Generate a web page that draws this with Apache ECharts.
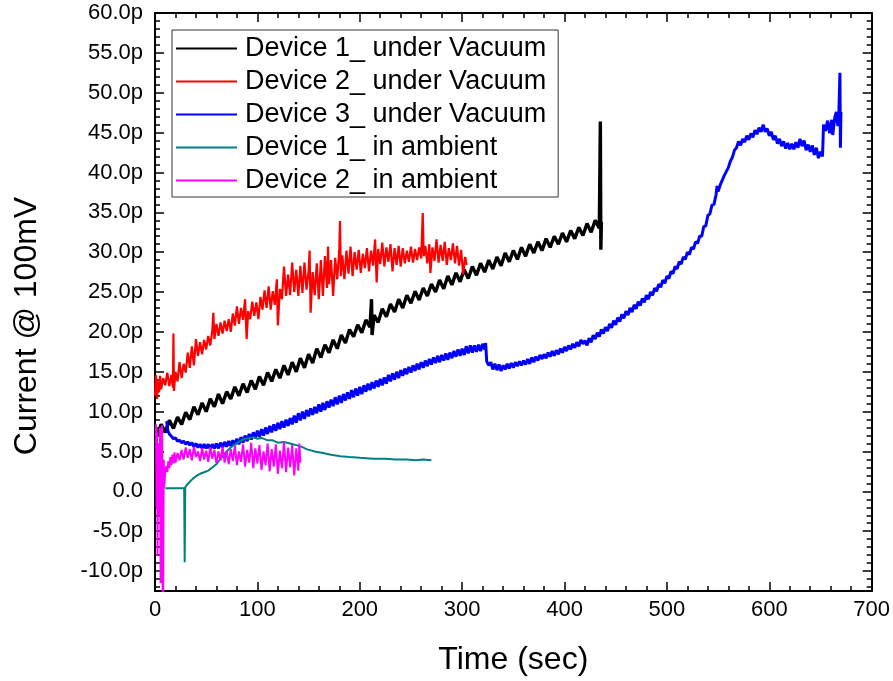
<!DOCTYPE html>
<html>
<head>
<meta charset="utf-8">
<script src="https://cdn.jsdelivr.net/npm/echarts@6/dist/echarts.min.js"></script>
<style>
html,body{margin:0;padding:0;background:#fff;}
#chart{width:893px;height:681px;}
</style>
</head>
<body>
<div id="chart"></div>
<script>
// ---- Data (time in s, current in pA) ----
const seriesNames = ['Device 1_ under Vacuum','Device 2_ under Vacuum','Device 3_ under Vacuum','Device 1_ in ambient','Device 2_ in ambient'];
const seriesColors = ['#000000','#FF0000','#0000FF','#008080','#FF00FF'];
const seriesWidths = [3.4, 2.2, 3.0, 2.0, 2.0];

const dev1Vacuum = [[2,7.0],[6,8.4],[10,7.4],[14,8.9],[18,7.9],[22,9.3],[26,8.4],[30,9.9],[34,9.0],[38,10.6],[42,9.6],[46,11.1],[50,10.0],[54,11.6],[58,10.6],[62,12.2],[66,11.0],[70,12.5],[74,11.6],[78,13.1],[82,12.0],[86,13.5],[90,12.4],[94,13.9],[98,12.8],[102,14.4],[106,13.3],[110,14.9],[114,13.8],[118,15.3],[122,14.2],[126,15.8],[130,14.6],[134,16.2],[138,15.0],[142,16.7],[146,15.5],[150,17.2],[154,16.1],[158,17.9],[162,16.8],[166,18.4],[170,17.4],[174,19.0],[178,17.9],[182,19.6],[186,18.6],[190,20.3],[194,19.4],[198,20.9],[202,19.9],[206,21.5],[210,20.6],[211.5,24.1],[212,19.6],[214,22.1],[218,21.2],[222,22.9],[226,21.9],[230,23.5],[234,22.5],[238,24.1],[242,23.0],[246,24.6],[250,23.6],[254,25.1],[258,24.0],[262,25.5],[266,24.5],[270,26.0],[274,25.0],[278,26.5],[282,25.4],[286,27.0],[290,25.9],[294,27.4],[298,26.3],[302,27.8],[306,26.7],[310,28.2],[314,27.1],[318,28.6],[322,27.5],[326,29.0],[330,27.9],[334,29.4],[338,28.3],[342,29.9],[346,28.8],[350,30.2],[354,29.1],[358,30.6],[362,29.5],[366,31.0],[370,29.9],[374,31.3],[378,30.2],[382,31.7],[386,30.6],[390,32.0],[394,31.0],[398,32.4],[402,31.3],[406,32.7],[410,31.7],[414,33.1],[418,32.1],[422,33.6],[426,32.5],[430,34.0],[434,33.0],[435,46.4],[435.5,30.3],[436,33.8]];

const dev2Vacuum = [[0,12.0],[1,14.6],[2,11.6],[3,13.8],[4,12.4],[5,14.5],[6,12.8],[8,14.2],[10,13.3],[12,14.9],[14,13.2],[16,14.6],[17.5,13.0],[18,19.8],[18.5,12.6],[20,15.0],[22,13.8],[24,16.2],[26,14.2],[28,16.0],[30,14.9],[32,17.4],[34,15.5],[36,18.2],[38,15.8],[40,19.1],[42,17.0],[44,18.7],[46,17.2],[48,19.0],[50,17.8],[52,19.5],[54,18.3],[56,20.2],[57,22.4],[58,19.1],[60,21.0],[62,19.5],[64,21.2],[66,19.8],[68,21.4],[70,20.1],[72,21.6],[74,20.0],[76,22.3],[78,20.8],[80,23.2],[82,21.0],[84,23.0],[86,21.5],[88,24.1],[89.5,19.1],[91,22.6],[93,21.6],[95,23.8],[97,22.0],[99,23.7],[101,21.6],[103,24.4],[105,22.8],[107,25.2],[109,23.0],[111,25.7],[113,22.8],[115,25.1],[117,23.4],[119,26.6],[120,20.8],[122,25.4],[124,24.1],[126,28.2],[128,24.5],[130,27.2],[132,24.6],[134,28.7],[136,25.0],[138,27.8],[140,24.5],[142,28.3],[144,24.9],[146,28.7],[148,25.3],[150,27.6],[151,30.2],[152,22.4],[154,27.5],[156,24.6],[158,28.6],[160,24.1],[162,29.0],[164,24.5],[166,29.5],[168,25.5],[169,30.7],[170,26.0],[172,29.0],[174,24.5],[176,29.3],[178,26.6],[180,30.3],[180.7,33.9],[181.5,27.0],[183,29.6],[185,26.6],[187,30.2],[189,27.3],[191,30.7],[193,27.0],[195,30.0],[197,27.8],[199,30.3],[201,27.4],[203,29.8],[205,28.0],[207,30.5],[209,27.6],[211,30.2],[213,28.3],[215,31.6],[216.5,26.2],[218,30.4],[220,28.5],[222,31.2],[224,28.2],[226,30.6],[228,28.8],[230,31.0],[232,27.6],[234,30.5],[236,28.4],[238,30.8],[240,28.2],[242,30.5],[244,28.6],[246,30.2],[248,28.8],[250,30.7],[252,28.7],[254,30.4],[256,29.0],[258,30.6],[260,29.2],[261.5,34.9],[262.5,29.5],[264,30.8],[266,28.6],[268,31.0],[269,27.4],[271,30.6],[273,28.9],[275,31.6],[277,28.7],[279,30.9],[281,28.9],[283,31.3],[285,28.4],[287,30.5],[289,29.0],[291,31.1],[293,28.6],[295,30.8],[297,28.3],[299,30.3],[301,27.2],[303,29.4],[304.4,28.4]];

const dev3Vacuum = [[11.4,8.8],[12.5,7.6],[14,7.2],[16,6.9],[18,6.6],[20,6.7],[22,6.3],[24,6.4],[26,6.1],[28,6.3],[30,5.9],[32,6.2],[34,5.8],[36,6.1],[38,5.6],[40,6.0],[42,5.5],[44,5.9],[46,5.4],[48,5.9],[50,5.4],[52,5.9],[54,5.3],[56,5.9],[58,5.4],[60,6.0],[62,5.4],[64,6.1],[66,5.5],[68,6.2],[70,5.6],[72,6.3],[74,5.7],[76,6.4],[78,5.8],[80,6.6],[82,5.9],[84,6.8],[86,6.1],[88,7.0],[90,6.3],[92,7.2],[94,6.5],[96,7.4],[98,6.7],[100,7.6],[102,6.8],[104,7.8],[106,7.0],[108,8.0],[110,7.2],[112,8.2],[114,7.4],[116,8.4],[118,7.6],[120,8.6],[122,7.8],[124,8.8],[126,8.0],[128,9.0],[130,8.2],[132,9.2],[134,8.4],[136,9.5],[138,8.6],[140,9.8],[142,8.9],[144,10.0],[146,9.1],[148,10.2],[150,9.4],[152,10.4],[154,9.6],[156,10.6],[158,9.8],[160,10.9],[162,10.0],[164,11.1],[166,10.2],[168,11.3],[170,10.5],[172,11.5],[174,10.7],[176,11.8],[178,10.9],[180,12.0],[182,11.1],[184,12.2],[186,11.4],[188,12.4],[190,11.6],[192,12.7],[194,11.8],[196,12.9],[198,12.0],[200,13.1],[202,12.2],[204,13.3],[206,12.5],[208,13.5],[210,12.7],[212,13.7],[214,12.9],[216,13.9],[218,13.1],[220,14.1],[222,13.3],[224,14.3],[226,13.5],[228,14.6],[230,13.8],[232,14.8],[234,14.0],[236,15.0],[238,14.2],[240,15.2],[242,14.5],[244,15.4],[246,14.7],[248,15.6],[250,14.9],[252,15.8],[254,15.1],[256,16.0],[258,15.3],[260,16.2],[262,15.5],[264,16.4],[266,15.7],[268,16.6],[270,15.9],[272,16.8],[274,16.1],[276,17.0],[278,16.2],[280,17.1],[282,16.4],[284,17.3],[286,16.5],[288,17.4],[290,16.7],[292,17.6],[294,16.9],[296,17.8],[298,17.0],[300,17.9],[302,17.1],[304,18.2],[306,17.3],[308,18.3],[310,17.4],[312,18.3],[314,17.5],[316,18.4],[318,17.6],[320,18.5],[322,17.8],[323,18.6],[324,16.3],[326,15.8],[328,16.2],[330,15.3],[332,16.0],[334,15.2],[336,15.9],[338,15.1],[340,15.8],[342,15.3],[344,16.0],[346,15.4],[348,16.1],[350,15.5],[352,16.2],[354,15.7],[356,16.3],[358,15.8],[360,16.4],[362,15.9],[364,16.6],[366,16.0],[368,16.8],[370,16.2],[372,16.9],[374,16.4],[376,17.1],[378,16.6],[380,17.2],[382,16.7],[384,17.4],[386,16.9],[388,17.6],[390,17.0],[392,17.7],[394,17.2],[396,17.9],[398,17.4],[400,18.1],[402,17.6],[404,18.3],[406,17.8],[408,18.5],[410,18.0],[412,18.7],[414,18.2],[416,19.0],[418,18.5],[420,18.9],[422,18.3],[424,19.2],[426,18.7],[428,19.6],[430,19.1],[432,19.9],[434,19.4],[436,20.3],[438,19.8],[440,20.6],[442,20.1],[444,21.0],[446,20.5],[448,21.4],[450,20.9],[452,21.8],[454,21.3],[456,22.2],[458,21.7],[460,22.6],[462,22.1],[464,23.0],[466,22.5],[468,23.4],[470,22.9],[472,23.8],[474,23.3],[476,24.2],[478,23.7],[480,24.6],[482,24.1],[484,25.0],[486,24.6],[488,25.5],[490,25.1],[492,26.0],[494,25.6],[496,26.5],[498,26.1],[500,27.0],[502,26.7],[504,27.6],[506,27.3],[508,28.2],[510,27.9],[512,28.8],[514,28.5],[516,29.4],[518,29.1],[520,30.0],[522,29.7],[524,30.6],[526,30.4],[528,31.3],[530,31.1],[532,32.0],[534,32.0],[536,33.2],[538,33.3],[540,34.6],[542,34.8],[544,35.9],[546,36.0],[548,37.2],[549,38.3],[550,37.6],[552,38.4],[554,39.0],[556,39.6],[558,40.1],[560,40.6],[562,41.4],[564,41.9],[566,42.8],[568,43.1],[570,43.9],[572,43.4],[574,44.2],[576,43.8],[578,44.6],[580,44.1],[582,44.9],[584,44.4],[586,45.3],[588,44.8],[590,45.6],[592,45.1],[594,46.0],[596,45.1],[598,45.5],[600,44.6],[602,45.1],[604,44.1],[606,44.6],[608,43.6],[610,44.2],[612,43.3],[614,43.9],[616,43.0],[618,43.7],[620,42.9],[622,43.6],[624,42.9],[626,43.8],[628,43.1],[630,44.2],[632,43.3],[634,44.0],[636,42.8],[638,43.5],[640,42.6],[642,43.4],[644,42.2],[646,43.1],[648,41.8],[650,42.6],[652,42.0],[653,46.0],[655,45.2],[657,46.5],[659,44.9],[661,46.6],[662,44.7],[664,46.9],[665.5,47.6],[667,45.8],[668,47.5],[669,52.5],[669.5,43.1],[670,47.6]];

const dev1Ambient = [[10,0.4],[15,0.4],[20,0.4],[25,0.4],[28.5,0.4],[29,-8.9],[29.5,0.5],[31,0.8],[34,1.2],[37,1.6],[40,1.9],[44,2.2],[48,2.4],[52,2.6],[56,3.0],[60,3.4],[63,3.9],[66,4.4],[70,5.0],[74,5.5],[78,5.9],[83,6.3],[88,6.6],[92,6.7],[96,6.8],[100,6.6],[104,6.7],[110,6.4],[115,6.4],[120,6.1],[126,6.2],[132,6.0],[138,5.8],[143,5.6],[148,5.3],[156,5.0],[164,4.8],[172,4.6],[181,4.4],[190,4.3],[200,4.2],[213,4.1],[225,4.1],[235,4.0],[245.8,4.0],[255,3.9],[262,4.0],[270,3.9]];

const dev2Ambient = [[1,8.4],[1.5,-2.0],[2,7.5],[2.5,-8.1],[3,6.0],[4,-3.0],[5,8.0],[5.5,-11.5],[6,2.0],[7,8.3],[7.5,-14],[8,-13],[8.5,4.0],[9,0.5],[10,2.5],[11,3.2],[12,2.4],[13,3.8],[14,2.9],[15,4.3],[16,3.3],[17,4.6],[18,3.5],[19,4.9],[20,3.6],[22,4.8],[24,3.9],[26,5.2],[28,4.0],[30,5.5],[32,4.2],[34,5.3],[36,3.9],[38,5.6],[40,4.3],[42,5.0],[44,3.8],[46,5.4],[48,4.0],[50,5.1],[52,3.7],[54,5.5],[56,4.1],[58,5.2],[60,3.5],[62,5.0],[64,3.9],[66,5.6],[68,3.6],[70,5.1],[72,3.4],[74,5.3],[76,3.8],[78,5.7],[80,3.3],[82,5.0],[84,3.7],[86,5.9],[88,3.1],[90,5.2],[92,3.6],[94,6.1],[96,2.9],[98,5.4],[100,3.5],[102,5.8],[104,2.7],[106,5.0],[108,3.3],[110,6.0],[112,2.5],[114,5.3],[116,3.1],[118,5.9],[120,2.2],[122,5.1],[124,2.9],[126,6.2],[128,2.4],[130,5.5],[132,3.0],[134,5.8],[136,2.0],[138,5.4],[140,2.6],[141,6.0],[142,3.6]];

const seriesData = [dev1Vacuum, dev2Vacuum, dev3Vacuum, dev1Ambient, dev2Ambient];

// ---- Axis ticks ----
const xMin = 0, xMax = 700, xInterval = 100;
const yMin = -12.5, yMax = 60;
const yMajorTicks = [-10,-5,0,5,10,15,20,25,30,35,40,45,50,55,60];
const yMinorTicks = [];
for (let v = -12; v <= 60; v++) { if (v % 5 !== 0) yMinorTicks.push(v); }

const FONT = "'Liberation Sans', Arial, sans-serif";
const axisLineStyle = { color: '#000', width: 2 };

const chart = echarts.init(document.getElementById('chart'), null, { renderer: 'canvas' });

function yLabel(v) {
  if (Math.abs(v) < 1e-9) return '0.0';
  return v.toFixed(1) + 'p';
}

const option = {
  backgroundColor: '#ffffff',
  animation: false,
  grid: { left: 155, right: 21, top: 13, bottom: 90, containLabel: false },
  legend: {
    show: true,
    orient: 'vertical',
    left: 172, top: 30,
    backgroundColor: '#ffffff',
    borderColor: '#333',
    borderWidth: 1,
    borderRadius: 0,
    padding: [5, 12, 3, 4],
    icon: 'rect',
    itemWidth: 61, itemHeight: 2, itemGap: 6,
    textStyle: { fontSize: 27, color: '#000', fontFamily: FONT, lineHeight: 27, padding: [0, 0, 0, 3] },
    data: seriesNames.map((n, i) => ({ name: n, itemStyle: { color: seriesColors[i] } }))
  },
  xAxis: [
    {
      type: 'value', position: 'bottom', min: xMin, max: xMax, interval: xInterval,
      name: 'Time (sec)', nameLocation: 'middle', nameGap: 53,
      nameTextStyle: { fontSize: 32, color: '#000', fontFamily: FONT },
      axisLine: { show: true, onZero: false, lineStyle: axisLineStyle },
      axisTick: { show: true, inside: true, length: 9, lineStyle: { color: '#000', width: 1.5 } },
      minorTick: { show: true, splitNumber: 5, length: 5, lineStyle: { color: '#000', width: 1.5 } },
      axisLabel: { fontSize: 22, color: '#000', fontFamily: FONT, margin: 8 },
      splitLine: { show: false }, minorSplitLine: { show: false }
    },
    {
      type: 'value', position: 'top', min: xMin, max: xMax, interval: xInterval,
      axisLine: { show: true, onZero: false, lineStyle: axisLineStyle },
      axisTick: { show: true, inside: true, length: 9, lineStyle: { color: '#000', width: 1.5 } },
      minorTick: { show: true, splitNumber: 5, length: 5, lineStyle: { color: '#000', width: 1.5 } },
      axisLabel: { show: false }, splitLine: { show: false }
    }
  ],
  yAxis: [
    {
      type: 'value', position: 'left', min: yMin, max: yMax,
      name: 'Current @ 100mV', nameLocation: 'middle', nameGap: 112,
      nameTextStyle: { fontSize: 32, color: '#000', fontFamily: FONT, padding: [0, 48, 0, 0] },
      axisLine: { show: true, onZero: false, lineStyle: axisLineStyle },
      axisTick: { show: true, inside: true, length: 9, customValues: yMajorTicks, lineStyle: { color: '#000', width: 1.5 } },
      axisLabel: { fontSize: 22, color: '#000', fontFamily: FONT, margin: 12, customValues: yMajorTicks, formatter: yLabel },
      splitLine: { show: false }
    },
    {
      type: 'value', position: 'left', min: yMin, max: yMax,
      axisLine: { show: false, onZero: false },
      axisTick: { show: true, inside: true, length: 5, customValues: yMinorTicks, lineStyle: { color: '#000', width: 1.5 } },
      axisLabel: { show: false }, splitLine: { show: false }
    },
    {
      type: 'value', position: 'right', min: yMin, max: yMax,
      axisLine: { show: true, onZero: false, lineStyle: axisLineStyle },
      axisTick: { show: true, inside: true, length: 9, customValues: yMajorTicks, lineStyle: { color: '#000', width: 1.5 } },
      axisLabel: { show: false }, splitLine: { show: false }
    },
    {
      type: 'value', position: 'right', min: yMin, max: yMax,
      axisLine: { show: false, onZero: false },
      axisTick: { show: true, inside: true, length: 5, customValues: yMinorTicks, lineStyle: { color: '#000', width: 1.5 } },
      axisLabel: { show: false }, splitLine: { show: false }
    }
  ],
  series: seriesNames.map((name, i) => ({
    name: name,
    type: 'line',
    xAxisIndex: 0,
    yAxisIndex: 0,
    data: seriesData[i],
    showSymbol: false,
    symbol: 'none',
    clip: true,
    lineStyle: { color: seriesColors[i], width: seriesWidths[i] },
    itemStyle: { color: seriesColors[i] },
    emphasis: { disabled: true },
    z: 2 + i
  }))
};

chart.setOption(option);
</script>
</body>
</html>
